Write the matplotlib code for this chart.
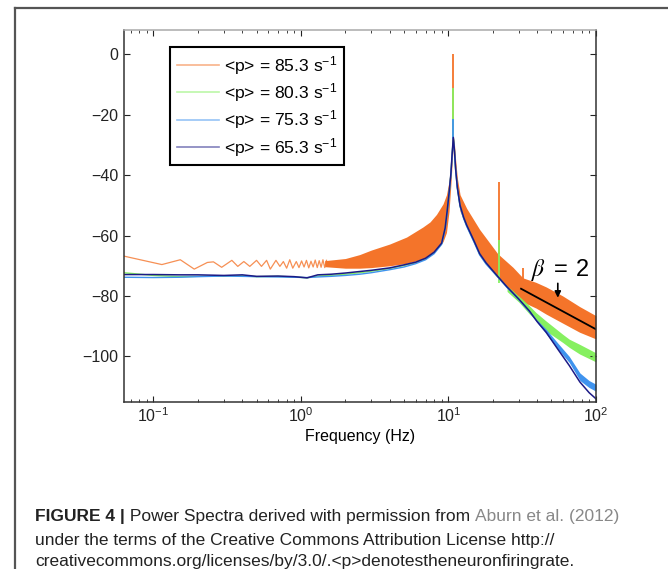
import matplotlib
matplotlib.use('Agg')
import matplotlib.pyplot as plt
from matplotlib.lines import Line2D

plt.rcParams['font.family'] = ['Liberation Sans', 'DejaVu Sans']
plt.rcParams['mathtext.fontset'] = 'custom'
plt.rcParams['mathtext.rm'] = 'Liberation Sans'
plt.rcParams['mathtext.it'] = 'Liberation Sans:italic'
plt.rcParams['mathtext.default'] = 'regular'

# legend labels and colours
labels = ['<p> = 85.3 s$^{-1}$', '<p> = 80.3 s$^{-1}$', '<p> = 75.3 s$^{-1}$', '<p> = 65.3 s$^{-1}$']
c_orange, c_green, c_blue, c_navy = '#f4742a', '#86f060', '#3f93ee', '#1c1a86'

# orange (85.3) low frequency zigzag
orange_lo_f = [0.063, 0.114, 0.152, 0.189, 0.232, 0.255, 0.29, 0.34, 0.373, 0.41, 0.45, 0.50,
               0.54, 0.585, 0.62, 0.677, 0.72, 0.76, 0.80, 0.84, 0.88, 0.93, 0.97, 1.01,
               1.05, 1.09, 1.13, 1.17, 1.21, 1.25, 1.29, 1.33, 1.37, 1.41, 1.45, 1.49]
orange_lo_v = [-66.8, -69.6, -68.0, -71.1, -68.9, -68.7, -70.5, -68.2, -70.2, -68.6, -70.2, -68.2,
               -70.2, -68.2, -71.1, -68.2, -70.2, -68.6, -70.8, -68.0, -70.8, -68.6, -70.6, -68.4,
               -70.4, -68.2, -70.7, -68.5, -70.4, -68.1, -70.6, -68.3, -70.5, -68.0, -70.6, -68.2]

# orange dense band (envelope of the fast oscillation)
orange_band_f = [1.45, 2.0, 2.5, 3.0, 4.0, 5.2, 6.7, 7.5, 8.3, 9.2, 9.7, 10.1, 10.4, 10.6, 10.8,
                 11.0, 11.2, 11.5, 12.0, 13.3, 16.3, 21.6, 27.4, 32.0, 39.3, 46.0, 59.7, 77.6, 100.0]
orange_band_top = [-68.3, -67.6, -66.3, -64.8, -62.8, -60.5, -57.2, -55.5, -53.0, -49.5, -46.5, -42.0,
                   -36.0, -31.0, -27.0, -30.0, -35.0, -41.0, -46.5, -51.0, -58.0, -66.0, -70.5, -74.0,
                   -75.5, -77.0, -80.0, -83.5, -86.5]
orange_band_bot = [-70.3, -70.8, -70.8, -70.6, -70.0, -69.2, -67.8, -66.8, -64.7, -62.0, -59.0, -52.0,
                   -43.0, -36.0, -30.0, -34.0, -40.0, -46.0, -52.0, -57.0, -66.0, -74.0, -79.0, -82.0,
                   -84.0, -86.0, -89.0, -92.0, -94.2]
orange_spike_f = [10.8, 21.9, 32.3]
orange_spike_top = [0.0, -42.2, -70.7]
orange_spike_base = [-30.0, -66.0, -76.0]

# shared frequency grid of the three lower curves
freq = [0.063, 0.1, 0.15, 0.2, 0.3, 0.4, 0.5, 0.7, 0.9, 1.1, 1.3, 1.6, 2.0, 2.5, 3.0, 4.0, 5.0,
        6.0, 7.0, 8.0, 9.0, 9.5, 9.8, 10.1, 10.4, 10.6, 10.8, 11.0, 11.2, 11.5, 12.0, 12.7, 13.3,
        15.0, 16.3, 18.0, 21.6, 25.0, 27.4, 30.0, 35.5, 40.0, 46.0, 55.0, 66.0, 78.0, 90.0, 100.0]
green_v = [-72.3, -73.2, -73.6, -73.5, -73.4, -73.3, -73.6, -73.5, -73.7, -74.0, -73.4, -73.2,
           -72.8, -72.3, -71.8, -70.9, -69.9, -69.0, -67.7, -65.7, -62.7, -57.7, -52.2, -46.2,
           -39.7, -33.2, -27.7, -32.2, -38.2, -44.2, -50.2, -54.2, -56.7, -62.2, -66.2, -69.2,
           -73.6, -77.0, -78.6, -80.5, -84.6, -87.0, -90.0, -93.5, -95.6, -97.6, -99.3, -100.3]
blue_v = [-73.8, -73.9, -73.8, -73.6, -73.4, -73.5, -73.6, -73.7, -73.8, -73.9, -73.7, -73.5,
          -73.2, -72.8, -72.3, -71.3, -70.4, -69.3, -68.0, -66.0, -62.9, -57.9, -52.4, -46.4,
          -39.9, -33.4, -27.9, -32.4, -38.4, -44.4, -50.4, -54.4, -56.9, -62.4, -66.4, -69.4,
          -73.7, -77.2, -79.2, -81.2, -85.2, -88.4, -91.7, -96.5, -101.0, -106.8, -109.2, -110.4]
navy_v = [-72.9, -72.9, -73.0, -73.0, -73.2, -73.0, -73.5, -73.4, -73.6, -74.0, -73.0, -72.8,
          -72.4, -71.9, -71.5, -70.7, -69.7, -68.8, -67.5, -65.5, -62.5, -57.5, -52.0, -46.0,
          -39.5, -33.0, -27.5, -32.0, -38.0, -44.0, -50.0, -54.0, -56.5, -62.0, -66.0, -69.0,
          -73.5, -77.0, -79.0, -81.0, -85.0, -88.5, -92.0, -97.5, -103.0, -108.5, -112.0, -114.0]

# thick parts at high frequency
green_band_f = [25.0, 30.0, 35.5, 39.3, 46.0, 59.7, 66.0, 77.6, 100.0]
green_band_top = [-77.5, -80.0, -83.3, -85.5, -88.3, -92.7, -94.3, -96.0, -98.8]
green_band_bot = [-78.5, -82.0, -86.0, -88.0, -91.6, -95.4, -97.0, -99.2, -101.8]
blue_band_f = [40.0, 46.0, 55.0, 66.0, 78.0, 90.0, 100.0]
blue_band_top = [-88.0, -91.0, -95.5, -100.0, -105.5, -108.0, -109.2]
blue_band_bot = [-88.8, -92.5, -97.5, -102.0, -108.0, -110.3, -111.5]

green_spike_f = [10.8, 21.9]
green_spike_top = [-11.0, -61.4]
green_spike_base = [-28.0, -75.6]
blue_spike_f = [10.8]
blue_spike_top = [-21.4]
blue_spike_base = [-28.0]

# beta = 2 fit
fit_f = [31.1, 100.0]
fit_v = [-77.6, -91.0]

fig = plt.figure(figsize=(6.68, 5.69), dpi=100)
ax = fig.add_axes([0.185, 0.294, 0.707, 0.653])

ax.plot(orange_lo_f, orange_lo_v, color=c_orange, lw=0.9, alpha=0.8)
ax.fill_between(orange_band_f, orange_band_bot, orange_band_top, color=c_orange, lw=0)
ax.vlines(orange_spike_f, orange_spike_base, orange_spike_top, color=c_orange, lw=1.3)

ax.plot(freq, green_v, color=c_green, lw=1.0)
ax.fill_between(green_band_f, green_band_bot, green_band_top, color=c_green, lw=0)
ax.vlines(green_spike_f, green_spike_base, green_spike_top, color=c_green, lw=1.3)

ax.plot(freq, blue_v, color=c_blue, lw=1.0)
ax.fill_between(blue_band_f, blue_band_bot, blue_band_top, color=c_blue, lw=0)
ax.vlines(blue_spike_f, blue_spike_base, blue_spike_top, color=c_blue, lw=1.3)

ax.plot(freq, navy_v, color=c_navy, lw=1.1)

ax.plot(fit_f, fit_v, color='black', lw=1.3)
ax.text(57.6, -71.3, r'$\mathit{\beta}\ =\ 2$', math_fontfamily='stix', fontsize=17,
        ha='center', va='center')
ax.annotate('', xy=(55.2, -81.5), xytext=(55.2, -74.9),
            arrowprops=dict(arrowstyle='-|>', color='black', lw=1.2, mutation_scale=9))

ax.set_xscale('log')
ax.set_xlim(0.0627, 100)
ax.set_ylim(-115, 8)
ax.set_yticks([0, -20, -40, -60, -80, -100])
ax.set_xticks([0.1, 1, 10, 100])
ax.tick_params(which='both', direction='in', top=True, right=True, labelsize=11.5, colors='#222222')
ax.tick_params(which='major', length=4)
ax.tick_params(which='minor', length=2.5)
for s in ax.spines.values():
    s.set_color('#333333')
    s.set_linewidth(1.1)
ax.spines['top'].set_color('#aaaaaa')
ax.set_xlabel('Frequency (Hz)', fontsize=11.5, labelpad=3)

handles = [Line2D([], [], color=c, lw=1.2, alpha=0.55) for c in (c_orange, c_green, c_blue, c_navy)]
leg = ax.legend(handles, labels, loc='upper left', bbox_to_anchor=(0.098, 0.954), borderaxespad=0,
                fontsize=12.6, fancybox=False, edgecolor='black', framealpha=1,
                handlelength=2.4, handletextpad=0.3, labelspacing=0.25, borderpad=0.38)
leg.get_frame().set_linewidth(1.5)

# outer figure frame (top and left edges)
fig.add_artist(Line2D([15 / 668, 1], [1 - 8 / 569, 1 - 8 / 569], color='#555555', lw=1.6))
fig.add_artist(Line2D([15 / 668, 15 / 668], [0, 1 - 8 / 569], color='#555555', lw=1.6))

# caption
cap_size = 12.5


def chain(parts, x, y):
    r = fig.canvas.get_renderer()
    for txt, kw in parts:
        t = fig.text(x, y, txt, fontsize=cap_size, va='baseline', **kw)
        bb = t.get_window_extent(renderer=r)
        x = bb.x1 / fig.bbox.width


chain([('FIGURE 4 |', dict(weight='bold', color='#222222')),
       (' Power Spectra derived with permission from ', dict(color='#222222')),
       ('Aburn et al. (2012)', dict(color='#888888'))], 35 / 668, 1 - 521 / 569)
fig.text(35 / 668, 1 - 545 / 569, 'under the terms of the Creative Commons Attribution License http://',
         fontsize=cap_size, va='baseline', color='#222222')
fig.text(35 / 668, 1 - 566 / 569, 'creativecommons.org/licenses/by/3.0/.<p>denotestheneuronfiringrate.',
         fontsize=cap_size, va='baseline', color='#222222')

fig.savefig('out.png', dpi=100)
